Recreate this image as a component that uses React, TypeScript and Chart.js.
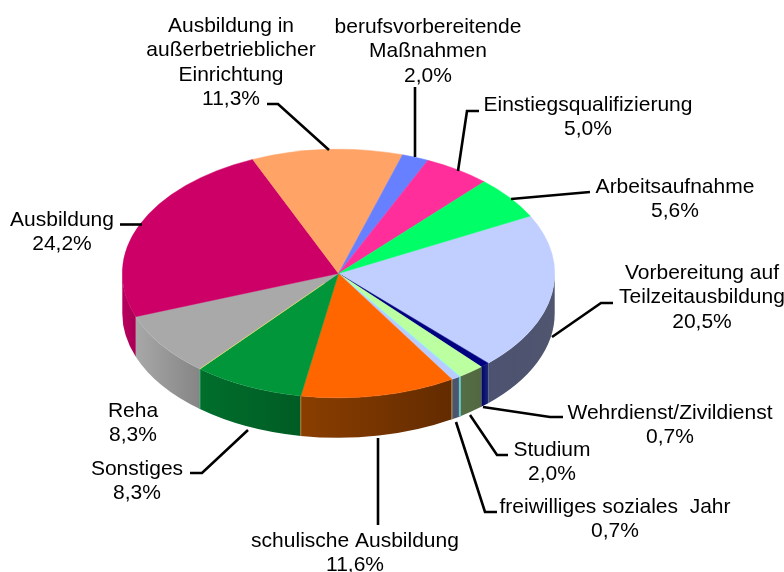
import React, { useEffect, useRef } from "react";
import { Chart, registerables } from "chart.js";

Chart.register(...registerables);

// Data, clockwise from the slice starting at the upper right
const categories = [
  "Vorbereitung auf\nTeilzeitausbildung",
  "Wehrdienst/Zivildienst",
  "Studium",
  "freiwilliges soziales  Jahr",
  "schulische Ausbildung",
  "Sonstiges",
  "Reha",
  "Ausbildung",
  "Ausbildung in\naußerbetrieblicher\nEinrichtung",
  "berufsvorbereitende\nMaßnahmen",
  "Einstiegsqualifizierung",
  "Arbeitsaufnahme",
];
const shares = [20.5, 0.7, 2.0, 0.7, 11.6, 8.3, 8.3, 24.2, 11.3, 2.0, 5.0, 5.6];

// Styles
const topColors = ["#C0CFFF", "#000080", "#BBFFA0", "#B9CCFF", "#FF6600", "#009639", "#A9A9A9", "#CC0066", "#FFA366", "#6680FF", "#FF2E9A", "#00FF66"];
const wallLeft = ["#4C5270", "#000066", "#566E47", "#4C5570", "#8A3E00", "#006E2C", "#A8A8A8", "#B8005E", "#A8A8A8", "#000", "#000", "#000"];
const wallRight = ["#50566F", "#1C2A78", "#51683F", "#4C5570", "#632B00", "#005C24", "#858585", "#A80055", "#A8A8A8", "#000", "#000", "#000"];

// Layout of the annotations: [centre x, first baseline y]
const labelAnchors: [number, number][] = [
  [702, 279], [670, 419], [552, 456], [615, 513], [355, 547], [137, 475],
  [133, 417], [62, 226], [231, 32], [428, 33], [588, 111], [675, 193],
];
const leaderLines: ([number, number][] | null)[] = [
  [[613, 303], [601, 303], [552, 337]],
  [[563, 417], [550, 417], [483, 407]],
  [[508, 455], [497, 455], [470, 415]],
  [[497, 512], [485, 512], [456, 422]],
  [[378, 525], [378, 438]],
  [[190, 473], [202, 473], [248, 430]],
  null,
  [[120, 224.5], [142, 224.5]],
  [[267, 104], [278, 104], [329, 150]],
  [[415, 87], [415, 157]],
  [[479, 111], [467, 111], [458, 171]],
  [[590, 192], [511, 199]],
];

const SQUASH = 0.575;
const DEPTH = 40;
const LINE_STEP = 24.3;
const FONT = '21px "Liberation Sans", Arial, sans-serif';

const pie3d = {
  id: "pie3d",
  beforeDatasetsDraw(chart: any) {
    const ctx = chart.ctx;
    const arcs = chart.getDatasetMeta(0).data;
    const { x: cx, y: cy, outerRadius: r } = arcs[0];
    const ry = r * SQUASH;
    ctx.save();
    arcs.forEach((arc: any, i: number) => {
      const tau = Math.PI * 2;
      for (const k of [0, tau]) {
        const a = Math.max(arc.startAngle + k, 0);
        const b = Math.min(arc.endAngle + k, Math.PI);
        if (b <= a) continue;
        const x0 = cx + r * Math.cos(a);
        const x1 = cx + r * Math.cos(b);
        const g = ctx.createLinearGradient(x1, 0, x0, 0);
        g.addColorStop(0, wallLeft[i]);
        g.addColorStop(1, wallRight[i]);
        ctx.fillStyle = g;
        ctx.beginPath();
        ctx.ellipse(cx, cy, r, ry, 0, a, b);
        ctx.ellipse(cx, cy + DEPTH, r, ry, 0, b, a, true);
        ctx.closePath();
        ctx.fill();
      }
    });
    const wallSeam = (angle: number, color: string, width: number) => {
      const x = cx + r * Math.cos(angle);
      const y = cy + ry * Math.sin(angle);
      ctx.strokeStyle = color;
      ctx.lineWidth = width;
      ctx.beginPath();
      ctx.moveTo(x, y);
      ctx.lineTo(x, y + DEPTH);
      ctx.stroke();
    };
    wallSeam(arcs[3].startAngle, "#66CCCC", 2);
    wallSeam(arcs[4].startAngle, "#A08050", 1.5);
    wallSeam(arcs[5].startAngle, "#B08040", 1);
    wallSeam(arcs[6].startAngle, "#50B080", 1);
    ctx.restore();
    ctx.save();
    ctx.translate(cx, cy);
    ctx.scale(1, SQUASH);
    ctx.translate(-cx, -cy);
  },
  afterDatasetsDraw(chart: any) {
    const ctx = chart.ctx;
    const arcs = chart.getDatasetMeta(0).data;
    const { x: cx, y: cy, outerRadius: r } = arcs[0];
    const seam = (angle: number, color: string) => {
      ctx.strokeStyle = color;
      ctx.lineWidth = 1;
      ctx.beginPath();
      ctx.moveTo(cx + r * 0.1 * Math.cos(angle), cy + r * 0.1 * Math.sin(angle));
      ctx.lineTo(cx + r * Math.cos(angle), cy + r * Math.sin(angle));
      ctx.stroke();
    };
    seam(arcs[6].startAngle, "#E0E060");
    seam(arcs[3].startAngle, "#7FFFFF");
    ctx.restore();

    ctx.save();
    ctx.strokeStyle = "#000";
    ctx.lineWidth = 2.6;
    ctx.lineJoin = "miter";
    leaderLines.forEach((pts) => {
      if (!pts) return;
      ctx.beginPath();
      pts.forEach(([x, y], j) => (j ? ctx.lineTo(x, y) : ctx.moveTo(x, y)));
      ctx.stroke();
    });
    ctx.fillStyle = "#000";
    ctx.font = FONT;
    ctx.textAlign = "center";
    ctx.textBaseline = "alphabetic";
    categories.forEach((name, i) => {
      const lines = [...name.split("\n"), shares[i].toFixed(1).replace(".", ",") + "%"];
      const [x, y] = labelAnchors[i];
      lines.forEach((line, j) => ctx.fillText(line, x, y + j * LINE_STEP));
    });
    ctx.restore();
  },
};

export default function App() {
  const ref = useRef<HTMLCanvasElement>(null);
  useEffect(() => {
    document.body.style.margin = "0";
    const chart = new Chart(ref.current!, {
      type: "pie",
      data: {
        labels: categories.map((c) => c.replace(/\n/g, " ")),
        datasets: [{
          data: shares,
          backgroundColor: topColors,
          borderColor: topColors,
          borderWidth: 0.6,
          clip: false,
        } as any],
      },
      options: {
        responsive: false,
        animation: false,
        rotation: 62.5,
        layout: { padding: { left: 122, right: 229, top: 57, bottom: 82 } },
        plugins: { legend: { display: false }, tooltip: { enabled: false }, title: { display: false } },
      },
      plugins: [pie3d],
    });
    return () => chart.destroy();
  }, []);
  return (
    <div style={{ width: 784, height: 572, background: "#fff", overflow: "hidden" }}>
      <canvas ref={ref} width={784} height={572} style={{ display: "block" }} />
    </div>
  );
}
